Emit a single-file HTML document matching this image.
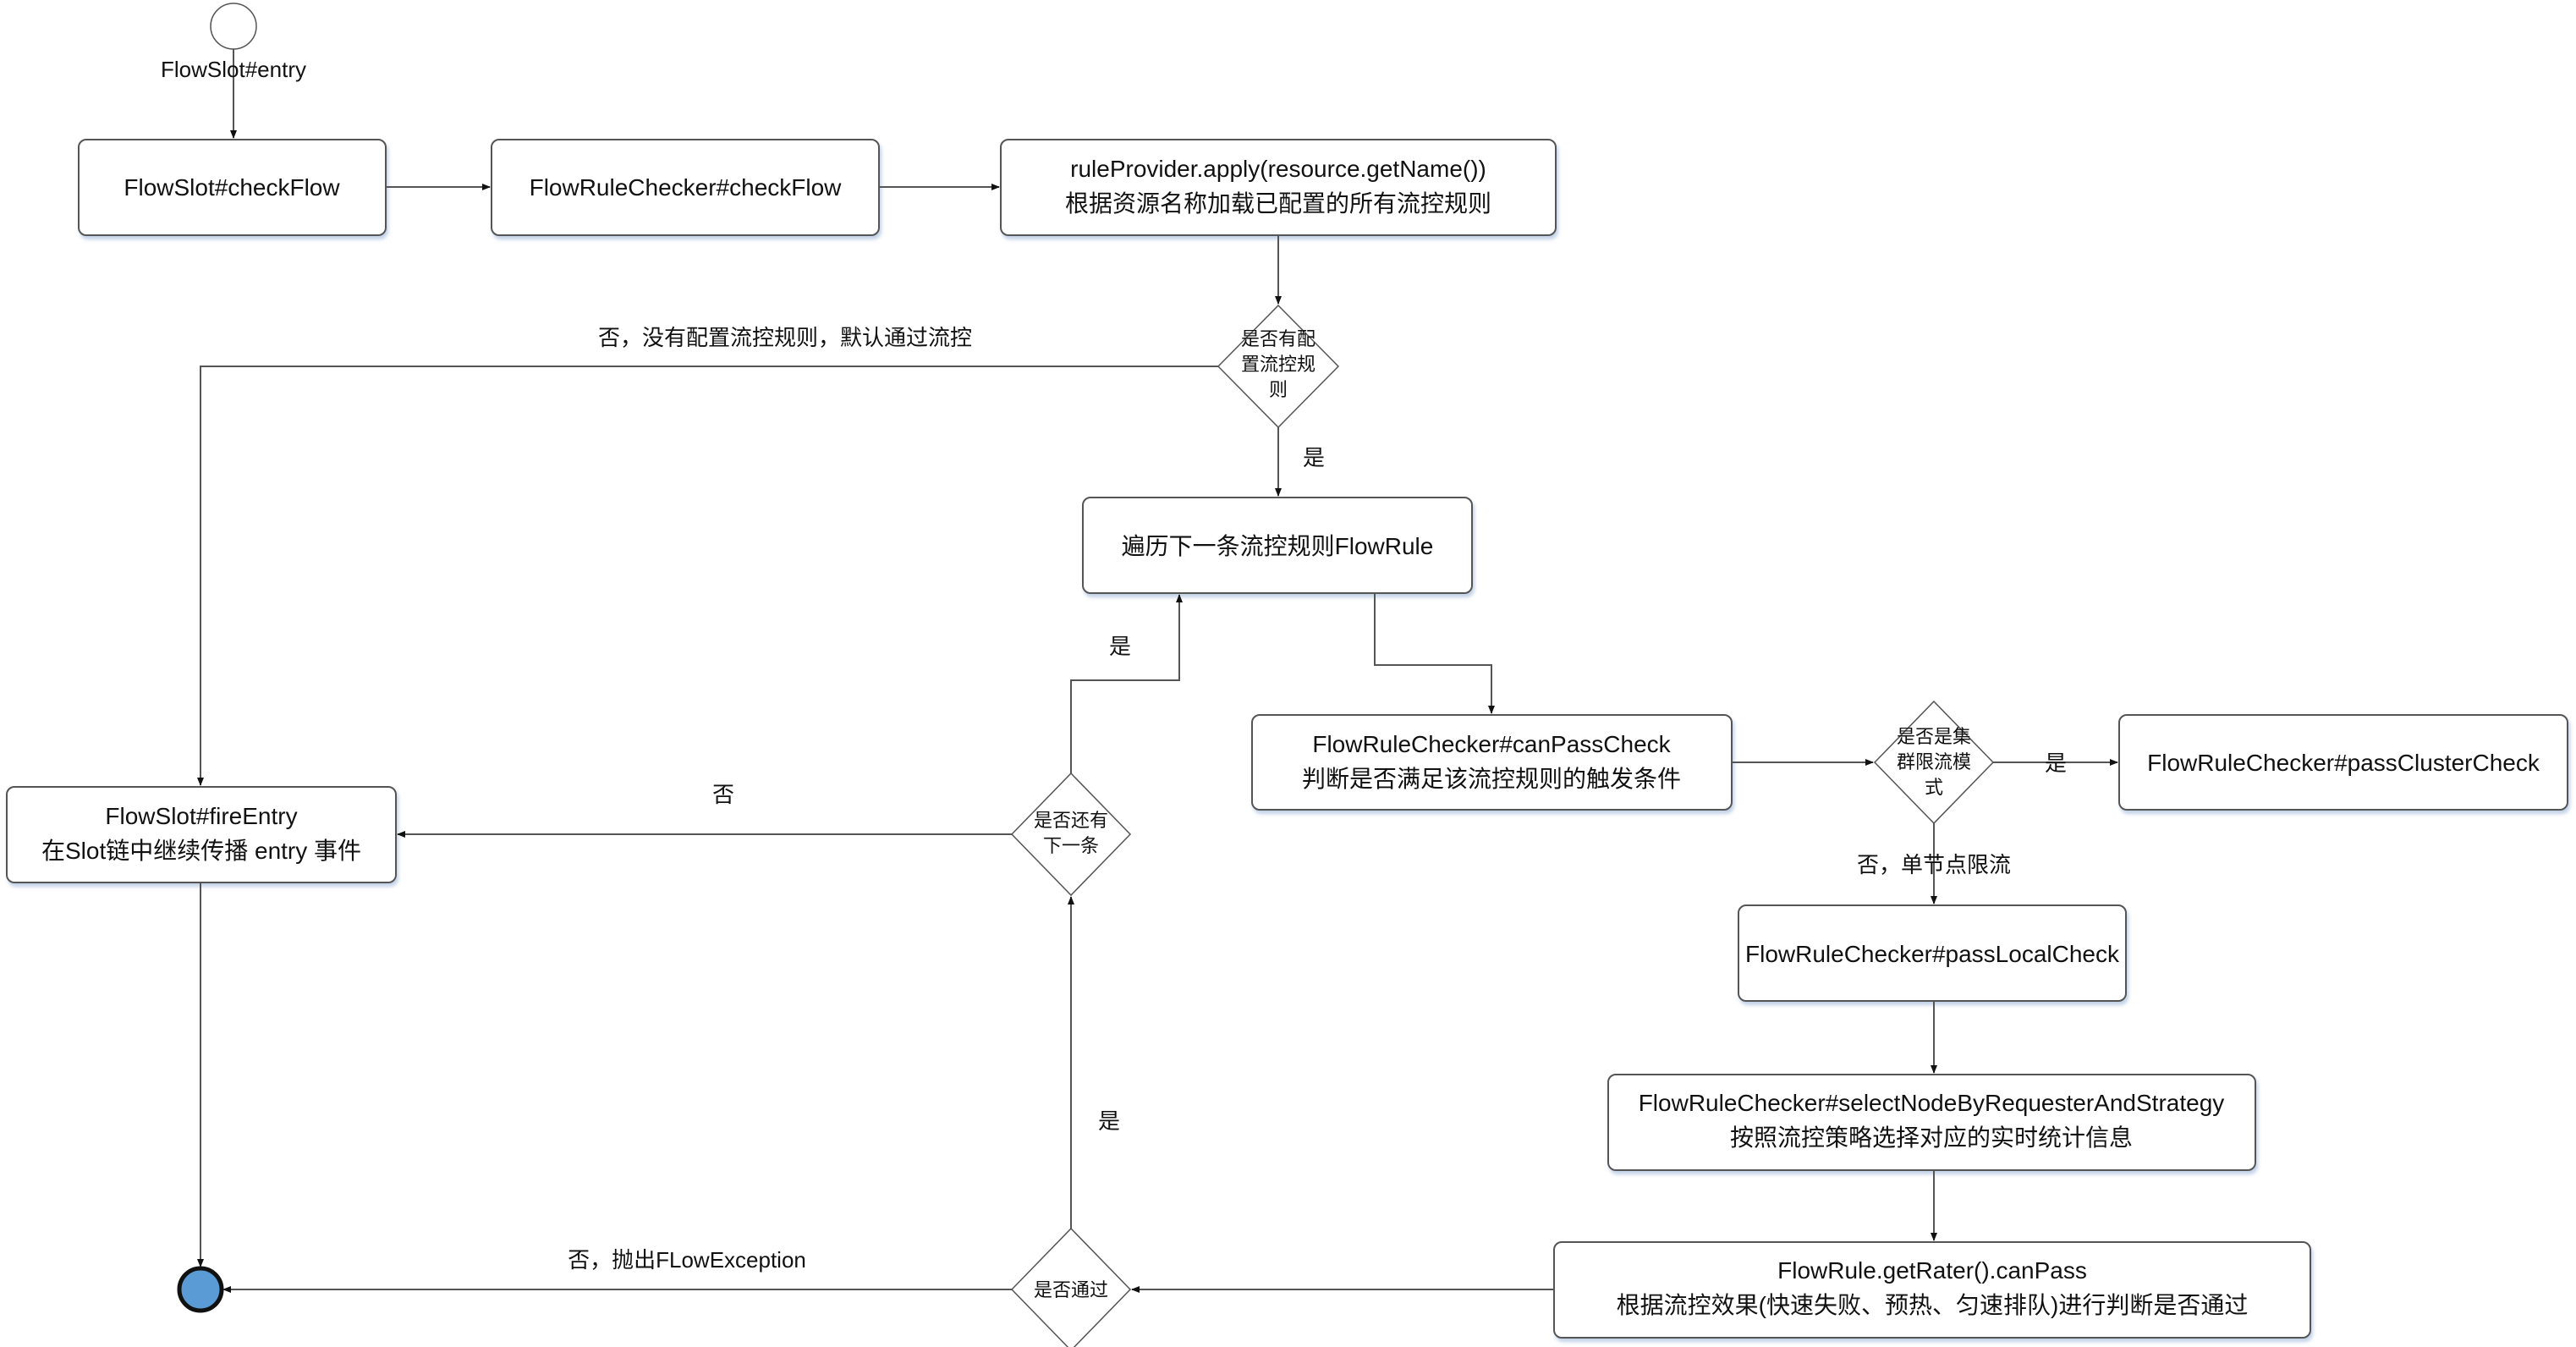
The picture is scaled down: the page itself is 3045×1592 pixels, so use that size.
<!DOCTYPE html>
<html><head><meta charset="utf-8"><style>
html,body{margin:0;padding:0;background:#fff;}
svg{display:block;}
text{font-family:"Liberation Sans","Noto Sans CJK SC",sans-serif;fill:#111;}
.b{font-size:28px;}
.l{font-size:26px;}
.d{font-size:22px;}
</style></head><body>
<svg width="3045" height="1592" viewBox="0 0 3045 1592" xmlns="http://www.w3.org/2000/svg">
<defs>
<marker id="a" markerWidth="10" markerHeight="10" refX="9" refY="5" orient="auto" markerUnits="userSpaceOnUse"><path d="M0,1 L10,5 L0,9 z" fill="#111"/></marker>
<filter id="s" x="-5%" y="-5%" width="110%" height="120%"><feDropShadow dx="2" dy="4" stdDeviation="2" flood-color="#9ab4d8" flood-opacity="0.6"/></filter>
</defs>
<g fill="#fff" stroke="#555" stroke-width="2" filter="url(#s)">
<rect x="93" y="165" width="363" height="113" rx="9"/>
<rect x="581" y="165" width="458" height="113" rx="9"/>
<rect x="1183" y="165" width="656" height="113" rx="9"/>
<rect x="1280" y="588" width="460" height="113" rx="9"/>
<rect x="1480" y="845" width="567" height="112" rx="9"/>
<rect x="2505" y="845" width="530" height="112" rx="9"/>
<rect x="2055" y="1070" width="458" height="113" rx="9"/>
<rect x="1901" y="1270" width="765" height="113" rx="9"/>
<rect x="1837" y="1468" width="894" height="113" rx="9"/>
<rect x="8" y="930" width="460" height="113" rx="9"/>
</g>
<g fill="#fff" stroke="#555" stroke-width="1.5">
<circle cx="276" cy="31" r="27"/>
<polygon points="1511,361 1582,433 1511,505 1440,433"/>
<polygon points="2286,829 2356,901 2286,973 2216,901"/>
<polygon points="1266,914 1336,986 1266,1058 1196,986"/>
<polygon points="1266,1452 1336,1524 1266,1596 1196,1524"/>
</g>
<circle cx="237" cy="1524" r="25" fill="#5b9bd5" stroke="#111" stroke-width="5"/>
<g fill="none" stroke="#555" stroke-width="2" marker-end="url(#a)">
<path d="M276,58 V163"/>
<path d="M456,221 H579"/>
<path d="M1039,221 H1181"/>
<path d="M1511,278 V359"/>
<path d="M1440,433 H237 V928"/>
<path d="M1511,505 V586"/>
<path d="M1625,701 V786 H1763 V843"/>
<path d="M2047,901 H2214"/>
<path d="M2356,901 H2503"/>
<path d="M2286,973 V1068"/>
<path d="M2286,1183 V1268"/>
<path d="M2286,1383 V1466"/>
<path d="M1837,1524 H1338"/>
<path d="M1196,1524 H264"/>
<path d="M1266,1452 V1060"/>
<path d="M1266,914 V804 H1394 V703"/>
<path d="M1196,986 H470"/>
<path d="M237,1043 V1497"/>
</g>
<g text-anchor="middle">
<text class="l" x="276" y="91" style="background:#fff">FlowSlot#entry</text>
<text class="b" x="274" y="231">FlowSlot#checkFlow</text>
<text class="b" x="810" y="231">FlowRuleChecker#checkFlow</text>
<text class="b" x="1511" y="209">ruleProvider.apply(resource.getName())</text>
<text class="b" x="1511" y="250">根据资源名称加载已配置的所有流控规则</text>
<text class="l" x="928" y="408">否，没有配置流控规则，默认通过流控</text>
<text class="d" x="1511" y="408">是否有配</text>
<text class="d" x="1511" y="438">置流控规</text>
<text class="d" x="1511" y="468">则</text>
<text class="l" x="1553" y="550">是</text>
<text class="b" x="1510" y="655">遍历下一条流控规则FlowRule</text>
<text class="b" x="1763" y="889">FlowRuleChecker#canPassCheck</text>
<text class="b" x="1763" y="930">判断是否满足该流控规则的触发条件</text>
<text class="d" x="2286" y="878">是否是集</text>
<text class="d" x="2286" y="908">群限流模</text>
<text class="d" x="2286" y="938">式</text>
<text class="l" x="2430" y="911">是</text>
<text class="b" x="2770" y="911">FlowRuleChecker#passClusterCheck</text>
<text class="l" x="2286" y="1031">否，单节点限流</text>
<text class="b" x="2284" y="1137">FlowRuleChecker#passLocalCheck</text>
<text class="b" x="2283" y="1313">FlowRuleChecker#selectNodeByRequesterAndStrategy</text>
<text class="b" x="2283" y="1354">按照流控策略选择对应的实时统计信息</text>
<text class="b" x="2284" y="1511">FlowRule.getRater().canPass</text>
<text class="b" x="2284" y="1552">根据流控效果(快速失败、预热、匀速排队)进行判断是否通过</text>
<text class="d" x="1266" y="977">是否还有</text>
<text class="d" x="1266" y="1007">下一条</text>
<text class="d" x="1266" y="1532">是否通过</text>
<text class="l" x="1324" y="773">是</text>
<text class="l" x="1311" y="1334">是</text>
<text class="l" x="855" y="948">否</text>
<text class="l" x="812" y="1498">否，抛出FLowException</text>
<text class="b" x="238" y="974">FlowSlot#fireEntry</text>
<text class="b" x="238" y="1015">在Slot链中继续传播 entry 事件</text>
</g>
</svg>
</body></html>
